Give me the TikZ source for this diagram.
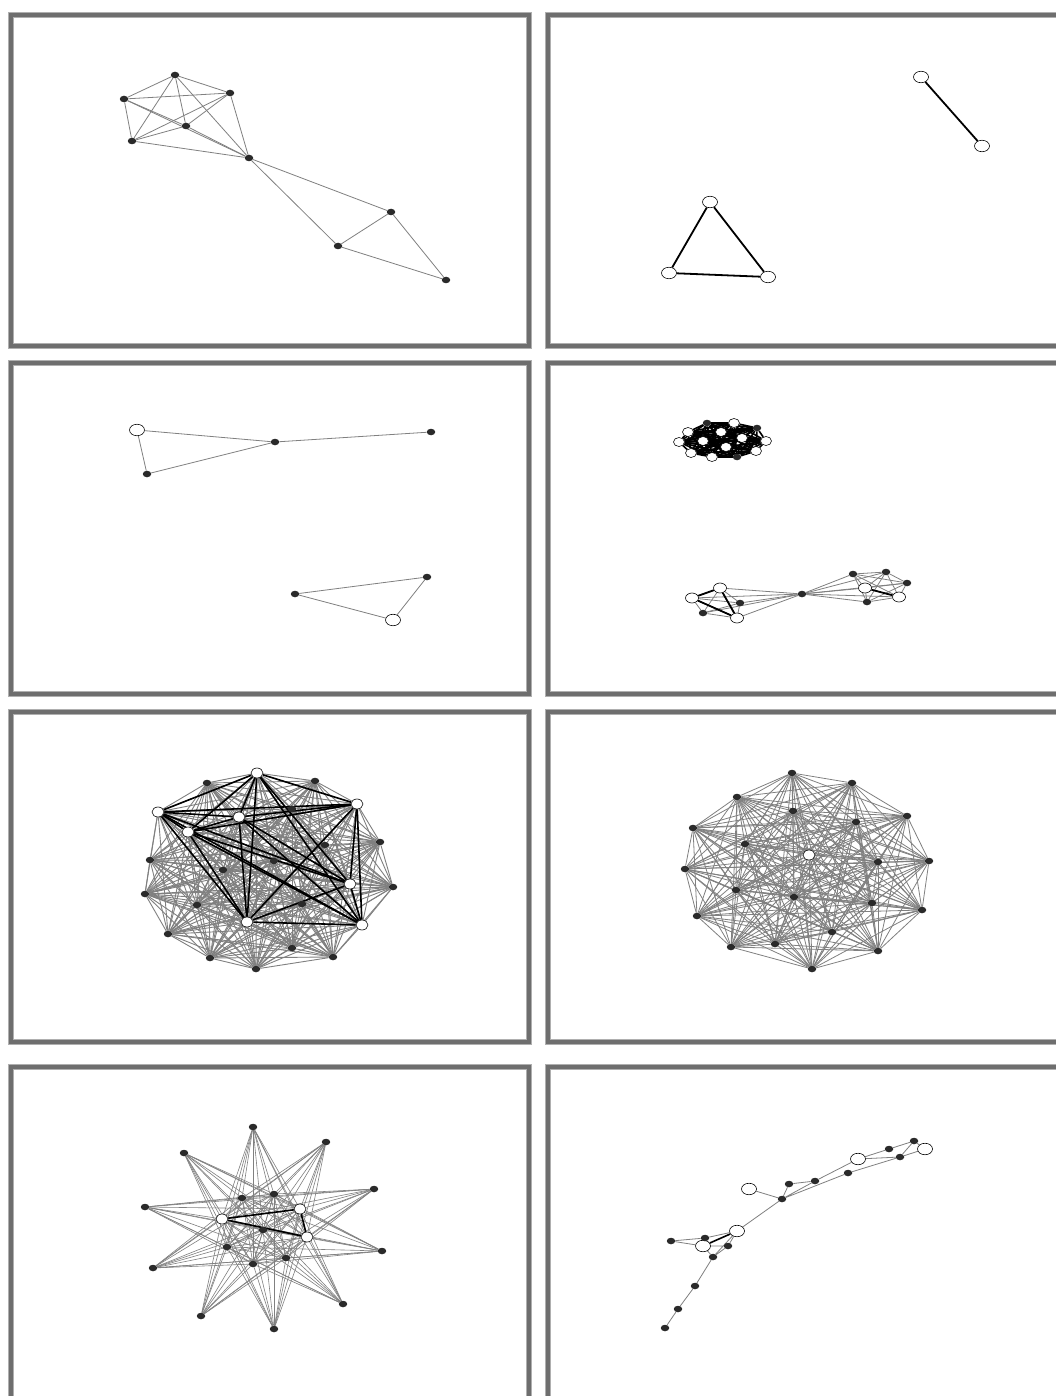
\documentclass[tikz,border=0pt]{standalone}
\usetikzlibrary{shapes.geometric}
\definecolor{dotc}{RGB}{42,42,42}
\definecolor{edgec}{RGB}{128,128,128}
\definecolor{frmc}{RGB}{110,110,110}
\definecolor{frml}{RGB}{175,175,175}
\pgfdeclarelayer{back}
\pgfdeclarelayer{bg}
\pgfsetlayers{back,bg,main}
\tikzset{
 dn/.style={ellipse,fill=dotc,draw=none,minimum width=8.5pt,minimum height=6.5pt,inner sep=0pt},
 wn/.style={ellipse,fill=white,draw=black,line width=0.6pt,minimum width=13pt,minimum height=10pt,inner sep=0pt},
 wbig/.style={wn,minimum width=15pt,minimum height=11.5pt},
 ge/.style={draw=edgec,line width=0.8pt},
 be/.style={draw=black,line width=1.8pt},
 frm/.style={draw=frmc,line width=4pt},
 frmo/.style={draw=frml,line width=6pt},
}
\begin{document}
\begin{tikzpicture}[x=1pt,y=-1pt]
\useasboundingbox (0,0) rectangle (1056,1396);
\begin{pgfonlayer}{back}
\fill[white] (0,0) rectangle (1056,1396);
\end{pgfonlayer}
\clip (0,0) rectangle (1056,1396);
% frames
\foreach \t/\b in {15/346,363/694,712/1042,1067/1420}{
  \draw[frmo] (11,\t) rectangle (529,\b);
  \draw[frm] (11,\t) rectangle (529,\b);
  \draw[frmo] (548,\t) rectangle (1080,\b);
  \draw[frm] (548,\t) rectangle (1080,\b);
}
% ---------- panel 1
\node[dn] (a1) at (175,75) {};
\node[dn] (a2) at (124,99) {};
\node[dn] (a3) at (230,93) {};
\node[dn] (a4) at (186,126) {};
\node[dn] (a5) at (132,141) {};
\node[dn] (a6) at (249,158) {};
\node[dn] (a7) at (391,212) {};
\node[dn] (a8) at (338,246) {};
\node[dn] (a9) at (446,280) {};
% ---------- panel 2
\node[wbig] (b1) at (921,77) {};
\node[wbig] (b2) at (982,146) {};
\node[wbig] (b3) at (710,202) {};
\node[wbig] (b4) at (669,273) {};
\node[wbig] (b5) at (768,277) {};
% ---------- panel 3
\node[wbig] (c1) at (137,430) {};
\node[dn] (c2) at (275,442) {};
\node[dn] (c3) at (431,432) {};
\node[dn] (c4) at (147,474) {};
\node[dn] (c5) at (295,594) {};
\node[dn] (c6) at (427,577) {};
\node[wbig] (c7) at (393,620) {};
% ---------- panel 4 top blob
\node[dn] (t12) at (707,423) {};
\node[dn] (t13) at (757,428) {};
\node[dn] (t14) at (737,457) {};
\foreach \n/\x/\y in {1/688/432,2/679/442,3/691/453,4/712/457,5/703/441,6/721/432,7/734/423,8/726/447,9/742/438,10/766/441,11/756/451}{
  \node[wn,minimum width=11pt,minimum height=9pt] (t\n) at (\x,\y) {};
}
% ---------- panel 4 bottom
\node[wn] (q1) at (692,598) {};
\node[wn] (q2) at (720,588) {};
\node[wn] (q3) at (737,618) {};
\node[dn] (q4) at (740,603) {};
\node[dn] (q5) at (703,613) {};
\node[dn] (q6) at (802,594) {};
\node[dn] (q7) at (853,574) {};
\node[dn] (q8) at (886,572) {};
\node[dn] (q9) at (907,583) {};
\node[dn] (q10) at (867,602) {};
\node[wn] (q11) at (865,588) {};
\node[wn] (q12) at (899,597) {};
% ---------- panel 5
\foreach \n/\x/\y in {1/257/773,2/158/812,3/357/804,4/239/817,5/188/832,6/350/884,7/247/922,8/362/925}{
  \node[wn,minimum width=12pt,minimum height=10pt] (e\n) at (\x,\y) {};
}
\foreach \n/\x/\y in {9/207/783,10/315/781,11/292/809,12/380/842,13/325/845,14/150/860,15/274/861,16/223/870,17/393/887,18/145/894,19/197/905,20/302/904,21/168/934,22/292/948,23/210/958,24/333/957,25/256/969}{
  \node[dn] (e\n) at (\x,\y) {};
}
% ---------- panel 6
\node[wn,minimum width=12pt,minimum height=10pt] (f1) at (809,855) {};
\foreach \n/\x/\y in {2/792/773,3/852/783,4/737/797,5/793/811,6/856/822,7/907/816,8/693/828,9/745/844,10/929/861,11/878/862,12/685/869,13/736/890,14/794/897,15/872/903,16/922/910,17/697/916,18/832/932,19/775/944,20/731/947,21/878/951,22/812/969}{
  \node[dn] (f\n) at (\x,\y) {};
}
% ---------- panel 7
\foreach \n/\x/\y in {1/253/1127,2/326/1142,3/374/1189,4/382/1251,5/343/1304,6/274/1329,7/201/1316,8/153/1268,9/145/1207,10/184/1153}{
  \node[dn] (o\n) at (\x,\y) {};
}
\node[wn,minimum width=12pt,minimum height=10pt] (i1) at (222,1219) {};
\node[wn,minimum width=12pt,minimum height=10pt] (i2) at (300,1209) {};
\node[wn,minimum width=12pt,minimum height=10pt] (i3) at (307,1237) {};
\foreach \n/\x/\y in {4/242/1198,5/274/1194,6/263/1230,7/227/1247,8/286/1258,9/253/1264}{
  \node[dn] (i\n) at (\x,\y) {};
}
% ---------- panel 8
\node[dn] (h1) at (914,1141) {};
\node[dn] (h2) at (889,1149) {};
\node[dn] (h3) at (900,1157) {};
\node[wbig] (hw) at (925,1149) {};
\node[wbig] (h4) at (858,1159) {};
\node[dn] (h5) at (848,1173) {};
\node[dn] (h6) at (815,1181) {};
\node[dn] (h7) at (789,1184) {};
\node[dn] (hub) at (782,1199) {};
\node[wbig] (hw2) at (749,1189) {};
\node[wbig] (lw1) at (737,1231) {};
\node[wbig] (lw2) at (703,1246) {};
\node[dn] (l1) at (671,1241) {};
\node[dn] (l2) at (705,1238) {};
\node[dn] (l3) at (728,1246) {};
\node[dn] (l4) at (713,1257) {};
\node[dn] (k1) at (695,1286) {};
\node[dn] (k2) at (678,1309) {};
\node[dn] (k3) at (665,1328) {};
% ================= edges
\begin{pgfonlayer}{bg}
% panel 1
\foreach \i in {1,...,5}{\pgfmathtruncatemacro\k{\i+1}\foreach \j in {\k,...,6}{\draw[ge] (a\i) -- (a\j);}}
\draw[ge] (a6) -- (a7) (a6) -- (a8) (a7) -- (a8) (a7) -- (a9) (a8) -- (a9);
% panel 2
\draw[be] (b1) -- (b2) (b3) -- (b4) (b3) -- (b5) (b4) -- (b5);
% panel 3
\draw[ge] (c1) -- (c2) (c1) -- (c4) (c4) -- (c2) (c2) -- (c3) (c5) -- (c6) (c5) -- (c7) (c6) -- (c7);
% panel 4 top
\foreach \i in {1,...,13}{\pgfmathtruncatemacro\k{\i+1}\foreach \j in {\k,...,14}{\draw[draw=black,line width=1.6pt] (t\i) -- (t\j);}}
% panel 4 bottom
\foreach \i in {1,...,4}{\pgfmathtruncatemacro\k{\i+1}\foreach \j in {\k,...,5}{\draw[ge] (q\i) -- (q\j);}}
\foreach \i in {1,...,5}{\draw[ge] (q\i) -- (q6);}
\foreach \i in {7,...,12}{\draw[ge] (q6) -- (q\i);}
\foreach \i in {7,...,11}{\pgfmathtruncatemacro\k{\i+1}\foreach \j in {\k,...,12}{\draw[ge] (q\i) -- (q\j);}}
\draw[be] (q1) -- (q2) (q1) -- (q3) (q2) -- (q3) (q11) -- (q12);
% panel 5
\foreach \i in {1,...,24}{\pgfmathtruncatemacro\k{\i+1}\foreach \j in {\k,...,25}{\draw[ge,line width=0.9pt] (e\i) -- (e\j);}}
\foreach \i in {1,...,7}{\pgfmathtruncatemacro\k{\i+1}\foreach \j in {\k,...,8}{\draw[be,line width=1.6pt] (e\i) -- (e\j);}}
% panel 6
\foreach \i in {1,...,21}{\pgfmathtruncatemacro\k{\i+1}\foreach \j in {\k,...,22}{\draw[ge,line width=0.8pt] (f\i) -- (f\j);}}
% panel 7
\foreach \i in {1,...,10}{\foreach \j in {1,...,9}{\draw[ge,line width=0.6pt] (o\i) -- (i\j);}}
\foreach \i/\j in {1/5,2/6,3/7,4/8,5/9,6/10,7/1,8/2,9/3,10/4}{\draw[ge,line width=0.6pt] (o\i) -- (o\j);}
\foreach \i in {1,...,8}{\pgfmathtruncatemacro\k{\i+1}\foreach \j in {\k,...,9}{\draw[ge,line width=0.6pt] (i\i) -- (i\j);}}
\draw[be,line width=1.6pt] (i1) -- (i2) (i1) -- (i3) (i2) -- (i3);
% panel 8
\draw[ge] (h2) -- (h1) (h1) -- (hw) (h1) -- (h3) (h3) -- (hw) (h4) -- (h2) (h4) -- (h3)
  (h5) -- (h3) (h6) -- (h4) (h7) -- (h6) (hub) -- (h7) (hub) -- (h6) (hub) -- (h5)
  (hw2) -- (hub) (lw1) -- (hub)
  (l1) -- (l2) (l1) -- (lw2) (l2) -- (lw1) (lw2) -- (l3) (lw2) -- (l4) (lw1) -- (l3)
  (lw1) -- (l4) (l3) -- (l4) (l4) -- (k1) (k1) -- (k2) (k2) -- (k3);
\draw[be,line width=1.6pt] (lw1) -- (lw2);
\end{pgfonlayer}
\end{tikzpicture}
\end{document}
